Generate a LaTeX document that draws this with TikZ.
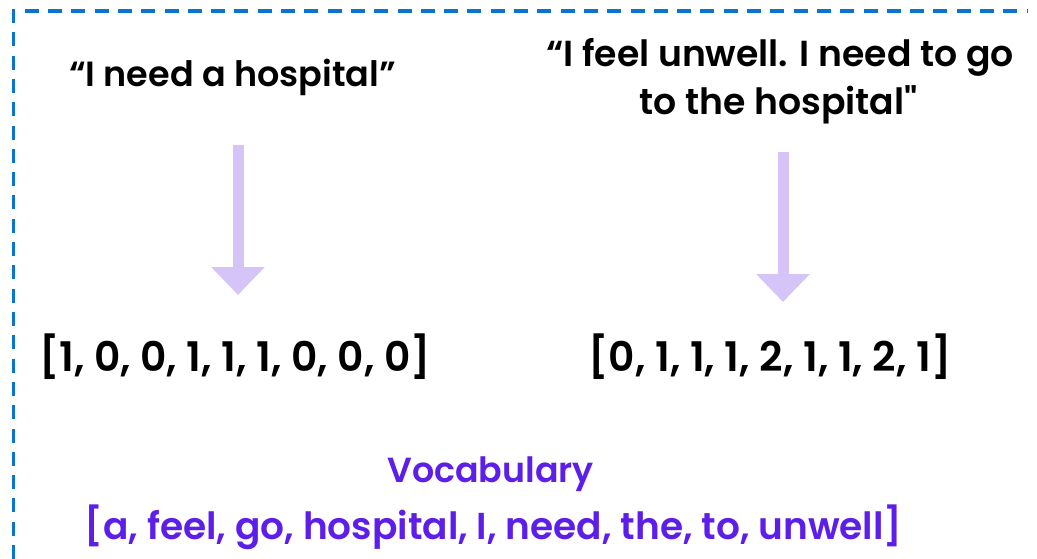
\documentclass[tikz,border=0pt]{standalone}
\usepackage{fontspec}
\setmainfont{Poppins}[UprightFont=* SemiBold, BoldFont=* Bold, Ligatures=TeXOff]
\usetikzlibrary{arrows.meta}
\definecolor{frameblue}{RGB}{10,116,208}
\definecolor{lavender}{RGB}{212,196,248}
\definecolor{vocabpurple}{RGB}{92,30,232}
\tikzset{
  phrase/.style={anchor=base, inner sep=0pt, font=\fontsize{35}{40}\selectfont},
  vector/.style={anchor=base, inner sep=0pt, font=\fontsize{40.8}{46}\selectfont},
  vocab/.style={anchor=base, inner sep=0pt, text=vocabpurple, font=\fontsize{34.8}{41}\selectfont},
  bigarrow/.style={draw=lavender, line width=11pt,
    -{Triangle[width=52pt,length=28pt,fill=lavender]}},
  frame/.style={draw=frameblue, line width=3.2pt, dash pattern=on 14pt off 9.3pt}
}
\begin{document}
\begin{tikzpicture}[x=1pt,y=-1pt]
  \useasboundingbox (0,0) rectangle (1037,559);
  % dashed frame (top and left edges)
  \draw[frame] (13.5,559) -- (13.5,11) -- (1028,11);

  % sentences
  \node[phrase] (s1) at (232.5,87) {“I need a hospital”};
  \node[phrase, font=\fontsize{36.2}{40}\selectfont] (s2a) at (780,67) {“I feel unwell. I need to go};
  \node[phrase, font=\fontsize{36.2}{40}\selectfont] (s2b) at (778.5,115) {to the hospital"};

  % count vectors
  \node[vector] (v1) at (235,371) {[1, 0, 0, 1, 1, 1, 0, 0, 0]};
  \node[vector] (v2) at (770,371) {[0, 1, 1, 1, 2, 1, 1, 2, 1]};

  % vocabulary
  \node[vocab] (vt) at (490.5,482) {Vocabulary};
  \node[vocab, font=\fontsize{37.5}{42}\selectfont] (vl) at (493.5,539) {[a, feel, go, hospital, I, need, the, to, unwell]};

  % arrows from sentence to vector
  \draw[bigarrow, shorten <=58pt, shorten >=76pt]
    ([xshift=5.5pt]s1.base) -- ([xshift=5.5pt]s1.base |- v1.base);
  \draw[bigarrow, shorten <=37pt, shorten >=69pt]
    ([xshift=4.5pt]s2b.base) -- ([xshift=4.5pt]s2b.base |- v2.base);
\end{tikzpicture}
\end{document}
